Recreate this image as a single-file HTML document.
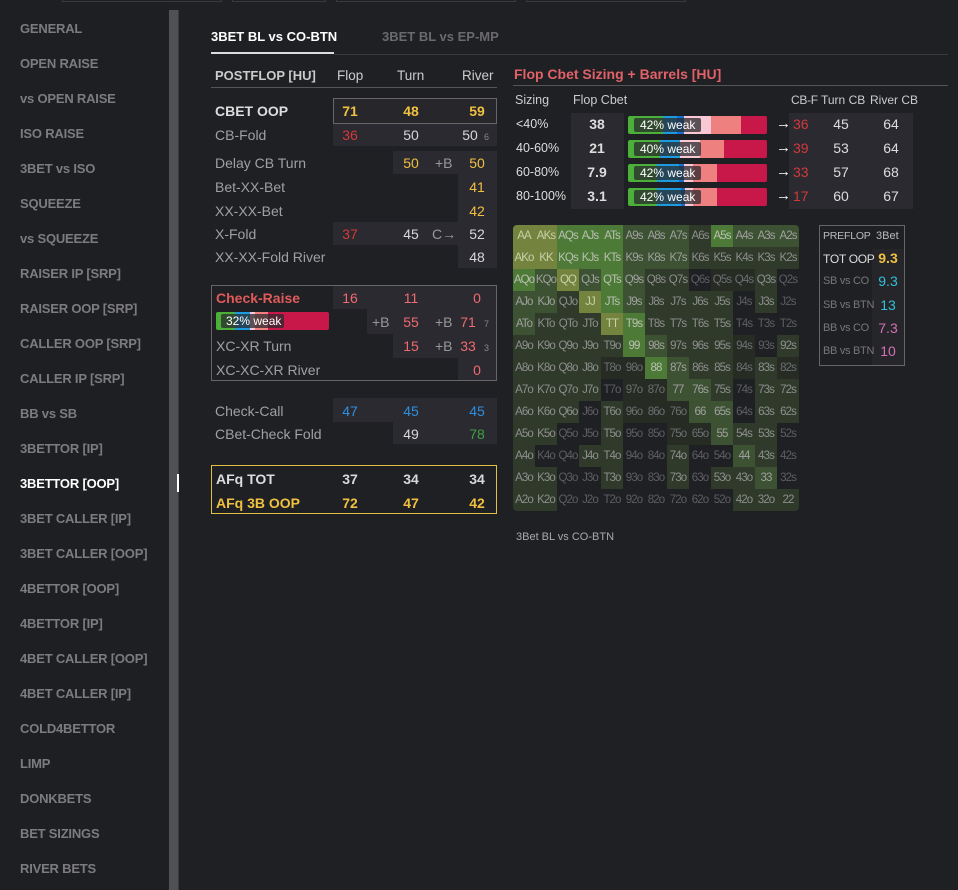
<!DOCTYPE html>
<html><head><meta charset="utf-8">
<style>
*{margin:0;padding:0;box-sizing:border-box}
body{width:958px;height:890px;background:#1f2024;font-family:"Liberation Sans",sans-serif;position:relative;overflow:hidden;color:#ddd}
.a{position:absolute;white-space:nowrap}
.side{position:absolute;left:0;top:0;width:169px;height:890px;background:#1e1f22}
.si{position:absolute;left:20px;font-size:13px;font-weight:bold;color:#7c7c80;letter-spacing:-0.2px}
.bg{position:absolute;background:#2a2a30}
.lbl{font-size:14px;color:#a0a0a4}
.v{font-size:14px;width:40px;text-align:center}
.y{color:#f0c040}.r{color:#d23a3a}.w{color:#d8d8d8}.pk{color:#f06a70}.bl{color:#2e8fe0}.gr{color:#3fa040}
.sm{font-size:9px;color:#888}
.pb{font-size:14px;color:#999}
.hm{position:absolute;font-size:11.5px;text-align:center;line-height:22px;width:22px;height:22px;letter-spacing:-0.9px;overflow:hidden}
</style></head><body>
<div class="side"></div>
<div class="a" style="left:169px;top:10px;width:9px;height:880px;background:#505055"></div>
<div class="a" style="left:178px;top:10px;width:1px;height:880px;background:#3a3a3e"></div>
<div class="a" style="left:177px;top:474px;width:2px;height:18px;background:#fff"></div>
<div class="a" style="left:62px;top:0;width:160px;height:2px;border:1px solid #3a3a3e;border-top:none"></div>
<div class="a" style="left:232px;top:0;width:94px;height:2px;border:1px solid #3a3a3e;border-top:none"></div>
<div class="a" style="left:336px;top:0;width:180px;height:2px;border:1px solid #3a3a3e;border-top:none"></div>
<div class="a" style="left:526px;top:0;width:160px;height:2px;border:1px solid #3a3a3e;border-top:none"></div>
<div id="sidebar-items"></div>

<div class="a" style="left:211px;top:29px;font-size:13px;font-weight:bold;color:#fff">3BET BL vs CO-BTN</div>
<div class="a" style="left:382px;top:29px;font-size:13px;font-weight:bold;color:#6a6a6e">3BET BL vs EP-MP</div>
<div class="a" style="left:211px;top:52px;width:123px;height:2px;background:#ddd"></div>
<div class="a" style="left:334px;top:54px;width:614px;height:1px;background:#3a3a3e"></div>

<!-- postflop table -->
<div>
<div class="a" style="left:215px;top:68px;font-size:13px;font-weight:bold;color:#ccc">POSTFLOP [HU]</div>
<div class="a" style="left:337px;top:68px;font-size:13.5px;color:#ccc">Flop</div>
<div class="a" style="left:397px;top:68px;font-size:13.5px;color:#ccc">Turn</div>
<div class="a" style="left:462px;top:68px;font-size:13.5px;color:#ccc">River</div>
<div class="a" style="left:211px;top:87px;width:286px;height:1px;background:#555"></div>

<div class="a" style="left:333px;top:98px;width:164px;height:26px;border:1px solid #666;background:#26262b"></div>
<div class="bg" style="left:333px;top:124px;width:164px;height:22px"></div>
<div class="bg" style="left:393px;top:151px;width:104px;height:23px"></div>
<div class="bg" style="left:458px;top:174px;width:39px;height:48px"></div>
<div class="bg" style="left:333px;top:222px;width:164px;height:23px"></div>
<div class="bg" style="left:458px;top:245px;width:39px;height:23px"></div>

<div class="a" style="left:215px;top:103px;font-size:14px;font-weight:bold;color:#ddd">CBET OOP</div>
<div class="a v y" style="left:330px;top:103px;font-weight:bold">71</div>
<div class="a v y" style="left:391px;top:103px;font-weight:bold">48</div>
<div class="a v y" style="left:457px;top:103px;font-weight:bold">59</div>
<div class="a lbl" style="left:215px;top:127px">CB-Fold</div>
<div class="a v r" style="left:330px;top:127px">36</div><div class="a v w" style="left:391px;top:127px">50</div><div class="a v w" style="left:450px;top:127px">50</div><div class="a sm" style="left:484px;top:132px">6</div>
<div class="a lbl" style="left:215px;top:155px">Delay CB Turn</div>
<div class="a v y" style="left:391px;top:155px">50</div><div class="a pb" style="left:435px;top:155px">+B</div><div class="a v y" style="left:457px;top:155px">50</div>
<div class="a lbl" style="left:215px;top:179px">Bet-XX-Bet</div><div class="a v y" style="left:457px;top:179px">41</div>
<div class="a lbl" style="left:215px;top:203px">XX-XX-Bet</div><div class="a v y" style="left:457px;top:203px">42</div>
<div class="a lbl" style="left:215px;top:226px">X-Fold</div>
<div class="a v r" style="left:330px;top:226px">37</div><div class="a v w" style="left:391px;top:226px">45</div><div class="a pb" style="left:432px;top:226px">C→</div><div class="a v w" style="left:457px;top:226px">52</div>
<div class="a lbl" style="left:215px;top:249px">XX-XX-Fold River</div><div class="a v w" style="left:457px;top:249px">48</div>

<div class="a" style="left:211px;top:285px;width:286px;height:96px;border:1px solid #666"></div>
<div class="bg" style="left:333px;top:286px;width:163px;height:23px"></div>
<div class="bg" style="left:367px;top:309px;width:129px;height:25px"></div>
<div class="bg" style="left:393px;top:334px;width:103px;height:24px"></div>
<div class="bg" style="left:458px;top:358px;width:38px;height:22px"></div>
<div class="a" style="left:216px;top:290px;font-size:14px;font-weight:bold;color:#e05a5a">Check-Raise</div>
<div class="a v pk" style="left:330px;top:290px">16</div><div class="a v pk" style="left:391px;top:290px">11</div><div class="a v pk" style="left:457px;top:290px">0</div>
<div class="a" style="left:216px;top:312px;width:113px;height:18px;border-radius:2px;overflow:hidden">
 <div class="a" style="left:0;top:0;width:19px;height:18px;background:#4caf3a"></div>
 <div class="a" style="left:19px;top:0;width:15px;height:18px;background:#1e9be0"></div>
 <div class="a" style="left:34px;top:0;width:5px;height:18px;background:#f8c8d4"></div>
 <div class="a" style="left:39px;top:0;width:13px;height:18px;background:#ee8080"></div>
 <div class="a" style="left:52px;top:0;width:61px;height:18px;background:#c8184a"></div>
 <div class="a" style="left:5px;top:2px;width:63px;height:14px;background:rgba(40,40,44,.75);border-radius:2px;font-size:12px;color:#fff;line-height:14px;padding-left:5px">32% weak</div>
</div>
<div class="a pb" style="left:372px;top:314px">+B</div><div class="a v pk" style="left:391px;top:314px">55</div><div class="a pb" style="left:435px;top:314px">+B</div><div class="a v pk" style="left:448px;top:314px">71</div><div class="a sm" style="left:484px;top:319px">7</div>
<div class="a lbl" style="left:216px;top:338px">XC-XR Turn</div>
<div class="a v pk" style="left:391px;top:338px">15</div><div class="a pb" style="left:435px;top:338px">+B</div><div class="a v pk" style="left:448px;top:338px">33</div><div class="a sm" style="left:484px;top:343px">3</div>
<div class="a lbl" style="left:216px;top:362px">XC-XC-XR River</div><div class="a v pk" style="left:457px;top:362px">0</div>

<div class="bg" style="left:333px;top:398px;width:164px;height:24px"></div>
<div class="bg" style="left:393px;top:422px;width:104px;height:22px"></div>
<div class="a lbl" style="left:215px;top:403px">Check-Call</div>
<div class="a v bl" style="left:330px;top:403px">47</div><div class="a v bl" style="left:391px;top:403px">45</div><div class="a v bl" style="left:457px;top:403px">45</div>
<div class="a lbl" style="left:215px;top:426px">CBet-Check Fold</div>
<div class="a v w" style="left:391px;top:426px">49</div><div class="a v gr" style="left:457px;top:426px">78</div>

<div class="a" style="left:211px;top:465px;width:286px;height:49px;border:1px solid #e0c040"></div>
<div class="a" style="left:216px;top:471px;font-size:14px;font-weight:bold;color:#ddd">AFq TOT</div>
<div class="a v w" style="left:330px;top:471px;font-weight:bold">37</div><div class="a v w" style="left:391px;top:471px;font-weight:bold">34</div><div class="a v w" style="left:457px;top:471px;font-weight:bold">34</div>
<div class="a" style="left:216px;top:495px;font-size:14px;font-weight:bold;color:#f0c040">AFq 3B OOP</div>
<div class="a v y" style="left:330px;top:495px;font-weight:bold">72</div><div class="a v y" style="left:391px;top:495px;font-weight:bold">47</div><div class="a v y" style="left:457px;top:495px;font-weight:bold">42</div>
</div>

<!-- Cbet sizing -->
<div class="a" style="left:514px;top:66px;font-size:14px;font-weight:bold;color:#e06268">Flop Cbet Sizing + Barrels [HU]</div>
<div class="a" style="left:513px;top:85px;width:435px;height:1px;background:#555"></div>
<div class="a" style="left:515px;top:93px;font-size:12.5px;color:#ccc">Sizing</div>
<div class="a" style="left:573px;top:93px;font-size:12.5px;color:#ccc">Flop Cbet</div>
<div class="a" style="left:791px;top:93px;font-size:12px;color:#ccc;letter-spacing:-0.3px">CB-F</div>
<div class="a" style="left:821px;top:93px;font-size:12px;color:#ccc">Turn CB</div>
<div class="a" style="left:870px;top:93px;font-size:12px;color:#ccc">River CB</div>
<div class="bg" style="left:571px;top:113px;width:53px;height:96px"></div>
<div class="bg" style="left:789px;top:113px;width:124px;height:96px"></div>
<div id="cbet-rows"></div>

<!-- heatmap -->
<div class="a" style="left:513px;top:225px;width:286px;height:286px;border-radius:4px;overflow:hidden" id="heatmap"></div>
<div class="a" style="left:516px;top:531px;font-size:11px;color:#aaa">3Bet BL vs CO-BTN</div>

<!-- preflop -->
<div class="a" style="left:819px;top:225px;width:86px;height:141px;border:1px solid #666"></div>
<div class="bg" style="left:872px;top:249px;width:32px;height:116px;background:#26262a"></div>
<div class="a" style="left:823px;top:230px;font-size:10.5px;color:#bbb;letter-spacing:-0.2px">PREFLOP</div>
<div class="a" style="left:876px;top:230px;font-size:11px;color:#bbb">3Bet</div>
<div id="preflop-rows"></div>

<script>
const sideItems=["GENERAL","OPEN RAISE","vs OPEN RAISE","ISO RAISE","3BET vs ISO","SQUEEZE","vs SQUEEZE","RAISER IP [SRP]","RAISER OOP [SRP]","CALLER OOP [SRP]","CALLER IP [SRP]","BB vs SB","3BETTOR [IP]","3BETTOR [OOP]","3BET CALLER [IP]","3BET CALLER [OOP]","4BETTOR [OOP]","4BETTOR [IP]","4BET CALLER [OOP]","4BET CALLER [IP]","COLD4BETTOR","LIMP","DONKBETS","BET SIZINGS","RIVER BETS"];
const sc=document.getElementById('sidebar-items');
sideItems.forEach((t,i)=>{const d=document.createElement('div');d.className='si';d.style.top=(21+35*i)+'px';d.textContent=t;if(t==="3BETTOR [OOP]")d.style.color='#fff';


sc.appendChild(d);});

const sizings=["<40%","40-60%","60-80%","80-100%"];
const flopCbet=["38","21","7.9","3.1"];
const weakPct=["42% weak","40% weak","42% weak","42% weak"];
const segGreen=[35,32,29,29],segBlue=[14,20,22,24],segDBlue=[7,0,5,4],segPink=[27,20,9,8],segSalmon=[30,24,24,24];
const cbf=["36","39","33","17"],turnCb=["45","53","57","60"],riverCb=["64","64","68","67"];
const cr=document.getElementById('cbet-rows');
const barW=139,cols=['#4caf3a','#1e9be0','#1470d0','#f8c8d4','#ee8080'];
sizings.forEach((s,i)=>{const y=116+24*i;
 let h=`<div class="a" style="left:516px;top:${y+1}px;font-size:12.5px;color:#ddd">${s}</div>
 <div class="a" style="left:577px;top:${y}px;width:40px;text-align:center;font-size:14px;font-weight:bold;color:#ddd">${flopCbet[i]}</div>`;
 const segs=[segGreen[i],segBlue[i],segDBlue[i],segPink[i],segSalmon[i]];
 let x=0,inner='';segs.forEach((w,k)=>{inner+=`<div class="a" style="left:${x}px;top:0;width:${w}px;height:18px;background:${cols[k]}"></div>`;x+=w;});
 inner+=`<div class="a" style="left:${x}px;top:0;width:${barW-x}px;height:18px;background:#c8184a"></div>`;
 inner+=`<div class="a" style="left:6px;top:2px;width:67px;height:14px;background:rgba(40,40,44,.75);border-radius:2px;font-size:12px;color:#fff;line-height:14px;padding-left:6px">${weakPct[i]}</div>`;
 h+=`<div class="a" data-bar="1" style="left:628px;top:${y}px;width:${barW}px;height:18px;border-radius:2px;overflow:hidden">${inner}</div>
 <div class="a" style="left:776px;top:${y-1}px;font-size:15px;color:#fff">→</div>
 <div class="a" style="left:793px;top:${y}px;font-size:14px;color:#d23a3a">${cbf[i]}</div>
 <div class="a" style="left:826px;top:${y}px;width:30px;text-align:center;font-size:14px;color:#ddd">${turnCb[i]}</div>
 <div class="a" style="left:876px;top:${y}px;width:30px;text-align:center;font-size:14px;color:#ddd">${riverCb[i]}</div>`;
 const row=document.createElement('div');row.innerHTML=h;
 
 
 cr.appendChild(row);});

const ranks=["A","K","Q","J","T","9","8","7","6","5","4","3","2"];
const levels=[
[5,5,4,4,4,3,3,3,2,4,3,3,3],
[5,5,4,4,4,3,3,3,2,2,2,2,2],
[4,3,5,3,4,3,2,2,0,1,1,2,0],
[3,3,2,5,4,3,2,2,2,2,0,2,0],
[3,2,2,2,5,4,2,2,2,2,0,0,0],
[2,2,2,2,2,4,3,2,2,2,1,0,2],
[2,2,2,2,1,1,4,3,2,2,1,2,1],
[2,2,2,2,0,1,1,3,3,2,0,2,2],
[2,2,2,0,2,1,1,1,3,3,0,2,2],
[2,2,0,0,2,0,0,1,1,3,2,2,0],
[2,0,0,2,2,0,0,2,0,0,3,2,0],
[2,2,0,0,2,0,0,2,0,2,2,3,0],
[2,2,0,0,0,0,0,0,0,0,2,2,2]];
const bgLv=['#1f2024','#262b24','#2f3a2a','#3d5232','#4e7a38','#74843f'];
const fgLv=['#5e5e62','#6e6e72','#8e8e8e','#a0a0a0','#b8c0b0','#c8d0a8'];
const hm=document.getElementById('heatmap');
for(let r=0;r<13;r++)for(let c=0;c<13;c++){const d=document.createElement('div');d.className='hm';
 const lv=levels[r][c];d.style.left=(c*22)+'px';d.style.top=(r*22)+'px';d.style.background=bgLv[lv];d.style.color=fgLv[lv];
 d.textContent=r===c?ranks[r]+ranks[c]:(c>r?ranks[r]+ranks[c]+'s':ranks[c]+ranks[r]+'o');
 
 
 hm.appendChild(d);}

const pfLabels=["TOT OOP","SB vs CO","SB vs BTN","BB vs CO","BB vs BTN"];
const pfValues=["9.3","9.3","13","7.3","10"];
const pfColors=['#f0c040','#30c0d8','#30c0d8','#d070b8','#d070b8'];
const pr=document.getElementById('preflop-rows');
pfLabels.forEach((l,i)=>{const y=252+23.3*i;const d=document.createElement('div');
 d.innerHTML=`<div class="a" style="left:823px;top:${y}px;font-size:${i?11:12}px;letter-spacing:-0.3px;color:${i?'#777':'#ddd'}">${l}</div>
 <div class="a" style="left:873px;top:${y-2}px;width:30px;text-align:center;font-size:14px;${i?'':'font-weight:bold;'}color:${pfColors[i]}">${pfValues[i]}</div>`;
 
 
 pr.appendChild(d);});
</script>
</body></html>
